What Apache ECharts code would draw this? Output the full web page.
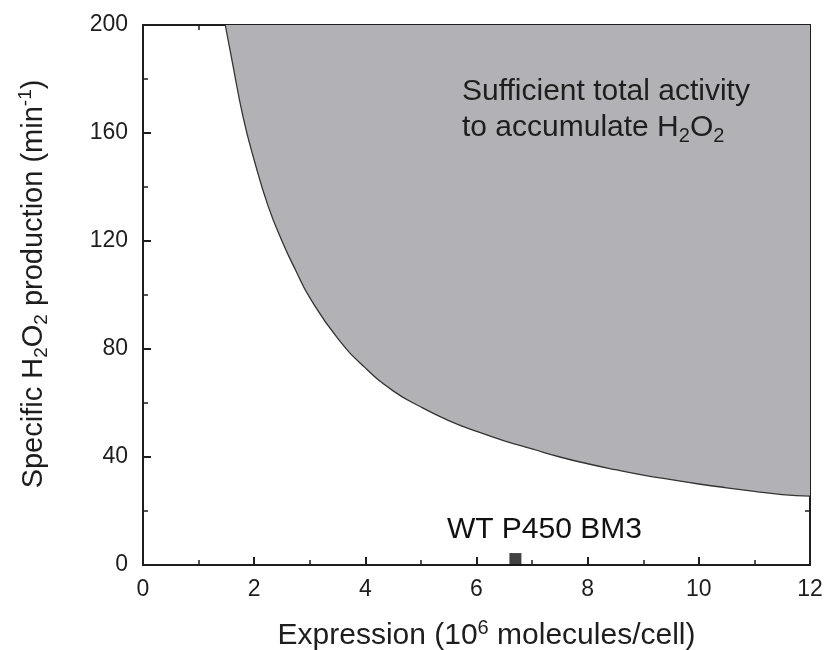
<!DOCTYPE html>
<html><head><meta charset="utf-8">
<script src="https://cdn.jsdelivr.net/npm/echarts@6/dist/echarts.min.js"></script>
<style>html,body{margin:0;padding:0;background:#fff}#c{width:826px;height:650px}</style>
</head><body><div id="c"></div>
<script>
// Boundary curve: [expression (10^6 molecules/cell), specific H2O2 production (min^-1)]
const curveX = [1.48, 1.6, 1.8, 2.0, 2.25, 2.5, 2.75, 3.0, 3.5, 4.0, 4.5, 5.0, 5.5, 6.0, 6.5, 7.0, 7.5, 8.0, 8.5, 9.0, 9.5, 10.0, 10.5, 11.0, 11.5, 12.0];
const curveY = [200, 187, 166, 150, 133, 120, 109, 99, 84, 73, 64.5, 58.5, 53.5, 49.5, 46, 43, 40, 37.5, 35.3, 33.3, 31.6, 30, 28.6, 27.3, 26.1, 25.5];
const wtPoint = [6.7, 2.2];
const wtLabel = 'WT P450 BM3';
const xTicks = [0, 2, 4, 6, 8, 10, 12];
const yTicks = [0, 40, 80, 120, 160, 200];

const font = 'Liberation Sans, Arial, sans-serif';
const ink = '#1e1e1e';
function makeRich(size, lh, key) {
  const s = {};
  s.n = {fontSize: size, fontFamily: font, lineHeight: lh};
  s.sub = {fontSize: Math.round(size * 0.66), fontFamily: font, lineHeight: lh, verticalAlign: 'bottom'};
  s.sup = {fontSize: Math.round(size * 0.66), fontFamily: font, lineHeight: lh, verticalAlign: 'top'};
  Object.values(s).forEach(o => { o[key] = ink; });
  return s;
}
const axisCommon = {
  type: 'value',
  axisLine: {show: true, onZero: false, lineStyle: {color: ink, width: 2}},
  axisTick: {show: true, inside: true, length: 8, lineStyle: {color: ink, width: 2}},
  minorTick: {show: true, splitNumber: 2, length: 5, lineStyle: {color: ink, width: 1.5}},
  splitLine: {show: false}
};
const chart = echarts.init(document.getElementById('c'));
chart.setOption({
  animation: false,
  backgroundColor: '#fff',
  grid: {left: 143, right: 16, top: 25, bottom: 85, containLabel: false, outerBoundsMode: 'none'},
  xAxis: [
    Object.assign({}, axisCommon, {
      min: xTicks[0], max: xTicks[xTicks.length - 1], interval: 2, position: 'bottom',
      axisLabel: {fontSize: 23, fontFamily: font, color: ink, margin: 13},
      name: '{n|Expression (10}{sup|6}{n| molecules/cell)}', nameLocation: 'middle', nameGap: 53,
      nameTextStyle: {rich: makeRich(30, 36, 'color'), padding: [0, 0, 0, 20]}
    }),
    Object.assign({}, axisCommon, {
      min: xTicks[0], max: xTicks[xTicks.length - 1], interval: 2, position: 'top',
      axisLabel: {show: false}
    })
  ],
  yAxis: [
    Object.assign({}, axisCommon, {
      min: yTicks[0], max: yTicks[yTicks.length - 1], interval: 40, position: 'left',
      axisLabel: {fontSize: 23, fontFamily: font, color: ink, margin: 15},
      name: '{n|Specific H}{sub|2}{n|O}{sub|2}{n| production (min}{sup|-1}{n|)}', nameLocation: 'middle', nameGap: 92,
      nameTextStyle: {rich: makeRich(29, 35, 'color'), padding: [0, 0, 0, 22]}
    }),
    Object.assign({}, axisCommon, {
      min: yTicks[0], max: yTicks[yTicks.length - 1], interval: 40, position: 'right',
      axisLabel: {show: false}
    })
  ],
  series: [
    {
      type: 'line',
      data: curveX.map((x, i) => [x, curveY[i]]),
      showSymbol: false,
      smooth: true,
      lineStyle: {color: '#333', width: 1.3},
      areaStyle: {origin: 'end', color: '#b2b2b6', opacity: 1},
      z: 1
    },
    {
      type: 'scatter',
      data: [wtPoint],
      symbol: 'rect',
      symbolSize: 12,
      itemStyle: {color: '#111'},
      label: {show: true, position: 'top', formatter: wtLabel, offset: [29, -3], fontSize: 30, fontFamily: font, color: '#111', opacity: 1},
      z: 5
    }
  ],
  graphic: [{
    type: 'text', left: 462, top: 77, z: 10,
    style: {
      text: '{n|Sufficient total activity}\n{n|to accumulate H}{sub|2}{n|O}{sub|2}',
      rich: makeRich(30, 36, 'fill'), fill: ink, font: '30px ' + font
    }
  }]
});
</script></body></html>
